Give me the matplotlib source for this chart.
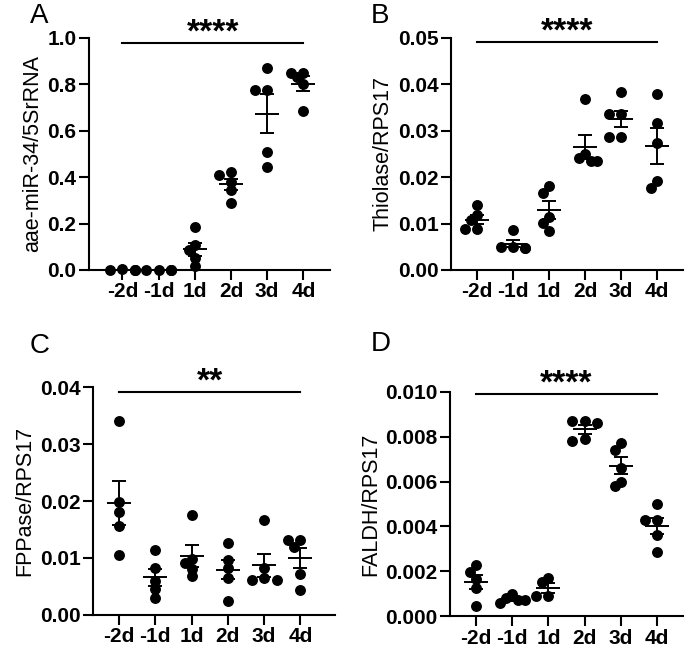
import numpy as np
import matplotlib
matplotlib.use('Agg')
import matplotlib.pyplot as plt

plt.rcParams['font.family'] = ['Liberation Sans', 'DejaVu Sans']

# Группы (дни)
days = ['-2d', '-1d', '1d', '2d', '3d', '4d']

# Панель A: aae-miR-34/5SrRNA
mir34 = [
    [0.002, 0.001, 0.001, 0.001, 0.000],
    [0.001, 0.001, 0.000, 0.000, 0.000],
    [0.184, 0.108, 0.086, 0.050, 0.019],
    [0.424, 0.410, 0.377, 0.345, 0.288],
    [0.870, 0.774, 0.774, 0.506, 0.442],
    [0.850, 0.850, 0.830, 0.800, 0.683],
]
# Панель B: Thiolase/RPS17
thiolase = [
    [0.0140, 0.0118, 0.0108, 0.0088, 0.0088],
    [0.0087, 0.0050, 0.0049, 0.0048, 0.0047],
    [0.0180, 0.0165, 0.0115, 0.0102, 0.0083],
    [0.0368, 0.0250, 0.0241, 0.0234, 0.0234],
    [0.0383, 0.0335, 0.0335, 0.0286, 0.0286],
    [0.0379, 0.0317, 0.0273, 0.0191, 0.0176],
]
# Панель C: FPPase/RPS17
fppase = [
    [0.0341, 0.0199, 0.0180, 0.0157, 0.0106],
    [0.0114, 0.0082, 0.0060, 0.0045, 0.0029],
    [0.0176, 0.0099, 0.0091, 0.0081, 0.0068],
    [0.0127, 0.0097, 0.0082, 0.0065, 0.0025],
    [0.0166, 0.0082, 0.0064, 0.0062, 0.0062],
    [0.0131, 0.0131, 0.0120, 0.0071, 0.0044],
]
# Панель D: FALDH/RPS17
faldh = [
    [0.00226, 0.00197, 0.00164, 0.00124, 0.00044],
    [0.0010, 0.0008, 0.0007, 0.0007, 0.0006],
    [0.0017, 0.0015, 0.0009, 0.0009],
    [0.0087, 0.0087, 0.0086, 0.0079, 0.0078],
    [0.0077, 0.0074, 0.0066, 0.0060, 0.0058],
    [0.0050, 0.0043, 0.0043, 0.0036, 0.00285],
]

panels = [
    dict(letter='A', data=mir34, ylabel='aae-miR-34/5SrRNA', ymax=1.0, step=0.2, fmt='%.1f',
         stars='****', bar=0.978, rect=[0.130, 0.586, 0.352, 0.356], xlim=(-0.92, 5.74),
         lpos=(0.043, 0.995)),
    dict(letter='B', data=thiolase, ylabel='Thiolase/RPS17', ymax=0.05, step=0.01, fmt='%.2f',
         stars='****', bar=0.049, rect=[0.659, 0.586, 0.338, 0.356], xlim=(-0.72, 5.72),
         lpos=(0.541, 0.995)),
    dict(letter='C', data=fppase, ylabel='FPPase/RPS17', ymax=0.04, step=0.01, fmt='%.2f',
         stars='**', bar=0.0391, rect=[0.136, 0.057, 0.353, 0.349], xlim=(-0.71, 5.95),
         lpos=(0.043, 0.49)),
    dict(letter='D', data=faldh, ylabel='FALDH/RPS17', ymax=0.010, step=0.002, fmt='%.3f',
         stars='****', bar=0.0099, rect=[0.657, 0.055, 0.340, 0.344], xlim=(-0.72, 5.72),
         lpos=(0.541, 0.493)),
]


def swarm(ax, x0, vals, min_px=7.0, step=0.17):
    # простой beeswarm: раздвигаем точки, которые перекрываются по вертикали
    y_px = ax.transData.transform([(x0, v) for v in vals])[:, 1]
    upx = ax.transData.transform([(1, 0)])[0, 0] - ax.transData.transform([(0, 0)])[0, 0]
    placed = []
    xs = []
    for yp in y_px:
        for k in [0, -1, 1, -2, 2]:
            xo = k * step * upx
            if all((xo - px) ** 2 + (yp - py) ** 2 >= min_px ** 2 for px, py in placed):
                break
        placed.append((xo, yp))
        xs.append(x0 + xo / upx)
    return xs


fig = plt.figure(figsize=(6.85, 6.52), dpi=100)

for p in panels:
    ax = fig.add_axes(p['rect'])
    ax.set_xlim(*p['xlim'])
    ax.set_ylim(0, p['ymax'])
    for i, vals in enumerate(p['data']):
        vals = np.array(vals)
        xs = swarm(ax, i, vals)
        ax.scatter(xs, vals, s=62, color='black', zorder=3, clip_on=False, linewidths=0)
        m = vals.mean()
        sem = vals.std(ddof=1) / np.sqrt(len(vals))
        ax.hlines(m, i - 0.33, i + 0.33, color='black', lw=1.4, zorder=4)
        ax.errorbar(i, m, yerr=sem, fmt='none', ecolor='black', elinewidth=1.4,
                    capsize=5, capthick=1.4, zorder=4)
    # линия значимости и звёздочки
    ax.plot([0, 5], [p['bar'], p['bar']], color='black', lw=1.5, clip_on=False)
    ax.annotate(p['stars'], xy=(2.5, p['bar']), xytext=(0, -4), textcoords='offset points',
                ha='center', va='bottom', fontsize=24, fontweight='bold', annotation_clip=False)

    ax.set_xticks(range(len(days)))
    ax.set_xticklabels(days)
    ax.set_yticks(np.arange(0, p['ymax'] + p['step'] / 2, p['step']))
    ax.yaxis.set_major_formatter(matplotlib.ticker.FormatStrFormatter(p['fmt']))
    ax.tick_params(direction='out', length=7, width=1.5, labelsize=15, pad=2)
    for lab in ax.get_xticklabels() + ax.get_yticklabels():
        lab.set_fontweight('bold')
    ax.set_ylabel(p['ylabel'], fontsize=15.5, labelpad=3)
    ax.spines['right'].set_visible(False)
    ax.spines['top'].set_visible(False)
    ax.spines['left'].set_linewidth(1.5)
    ax.spines['bottom'].set_linewidth(1.5)

    fig.text(p['lpos'][0], p['lpos'][1], p['letter'], fontsize=20, va='top', ha='left')

fig.savefig('out.png', dpi=100, facecolor='white')
